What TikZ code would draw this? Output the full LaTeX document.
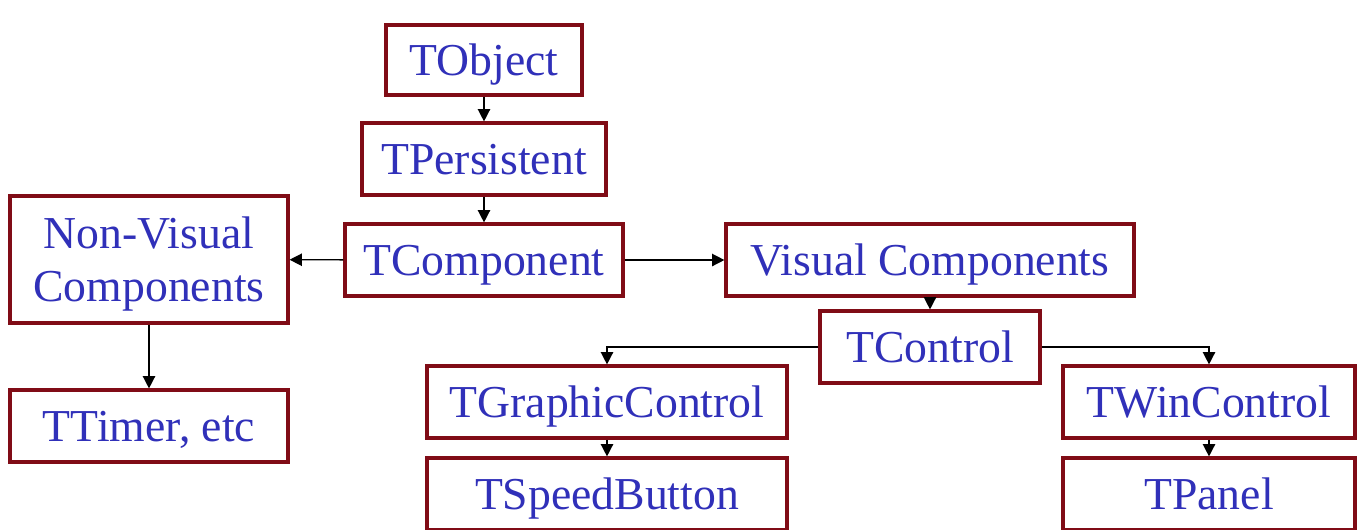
\documentclass[tikz,border=0pt]{standalone}
\usepackage{fontspec}
\setmainfont{Liberation Serif}
\usepackage{xcolor}
\usetikzlibrary{arrows.meta,positioning}
\definecolor{boxred}{RGB}{128,12,22}
\definecolor{txtblue}{RGB}{48,48,185}
\tikzset{cls/.style={rectangle,draw=boxred,line width=1.8pt,text=txtblue,inner sep=0pt,minimum height=1.44cm,text height=0.61cm,text depth=0pt,align=center,font=\fontsize{26}{30}\selectfont}}

\begin{document}
\begin{tikzpicture}[>={Triangle[length=7pt,width=7pt]}]
        \useasboundingbox[fill=white] (0,0) rectangle (27.2,-10.58);
        \node[cls,minimum width=3.92cm,minimum height=1.40cm] (obj) at (9.68,-1.20) {TObject};
        \node[cls,minimum width=4.88cm] (pers) at (9.68,-3.18) {TPersistent};
        \node[cls,minimum width=5.56cm] (comp) at (9.68,-5.20) {TComponent};
        \node[cls,minimum width=5.56cm,minimum height=2.54cm,text height=1.66cm] (nonvis) at (2.98,-5.19) {Non-Visual\\Components};
        \node[cls,minimum width=5.56cm] (timer) at (2.98,-8.52) {TTimer, etc};
        \node[cls,minimum width=8.16cm] (vis) at (18.60,-5.20) {Visual Components};
        \node[cls,minimum width=4.40cm] (ctrl) at (18.60,-6.94) {TControl};
        \node[cls,minimum width=7.20cm] (gctrl) at (12.14,-8.04) {TGraphicControl};
        \node[cls,minimum width=7.20cm] (speed) at (12.14,-9.88) {TSpeedButton};
        \node[cls,minimum width=5.84cm] (wctrl) at (24.18,-8.04) {TWinControl};
        \node[cls,minimum width=5.84cm] (panel) at (24.18,-9.88) {TPanel};

        \draw [->,line width=0.8pt] (obj) -- (pers);
        \draw [->,line width=0.8pt] (pers) -- (comp);
        \draw [->,line width=0.8pt] (comp) -- (nonvis);
        \draw [->,line width=0.8pt] (comp) -- (vis);
        \draw [->,line width=0.8pt] (nonvis) -- (timer);
        \draw [->,line width=0.8pt] (vis) -- (ctrl);
        \draw [->,line width=0.8pt] (ctrl.west) -| (gctrl.north);
        \draw [->,line width=0.8pt] (ctrl.east) -| (wctrl.north);
        \draw [->,line width=0.8pt] (gctrl) -- (speed);
        \draw [->,line width=0.8pt] (wctrl) -- (panel);
    \end{tikzpicture}
\end{document}
